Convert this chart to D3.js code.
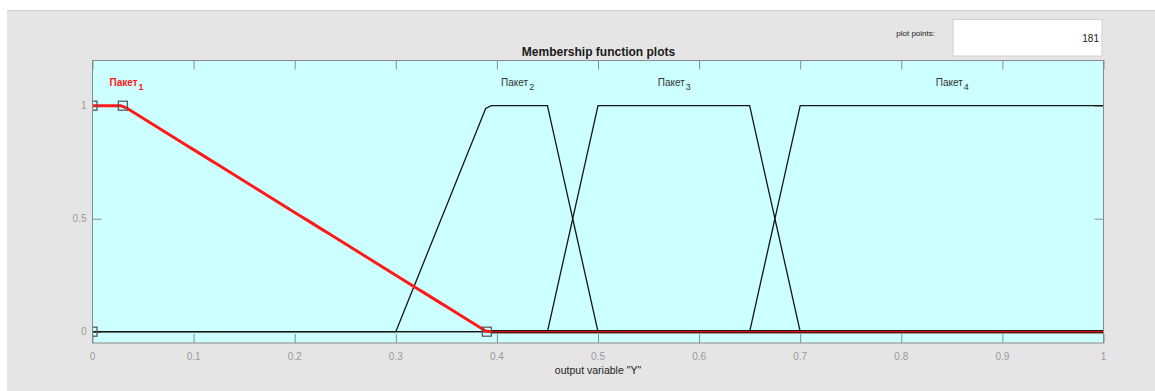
<!DOCTYPE html>
<html>
<head>
<meta charset="utf-8">
<script src="https://cdn.jsdelivr.net/npm/d3@7"></script>
<style>
  html, body { margin: 0; padding: 0; background: #ffffff; }
  svg { display: block; font-family: "Liberation Sans", Arial, Helvetica, sans-serif; }
</style>
</head>
<body>
<svg id="chart" width="1155" height="391"></svg>
<script>
// Output variable "Y": four trapezoidal membership functions
const mfNames = ["Пакет", "Пакет", "Пакет", "Пакет"];
const mfIndex = ["1", "2", "3", "4"];
const mfParams = [
  [0, 0, 0.03, 0.39],
  [0.3, 0.39, 0.45, 0.5],
  [0.45, 0.5, 0.65, 0.7],
  [0.65, 0.7, 1, 1.3]
];
const selectedMf = 0;
const plotPoints = 181;
const xRange = [0, 1];
const yRange = [-0.05, 1.2];
const xTicks = [0, 0.1, 0.2, 0.3, 0.4, 0.5, 0.6, 0.7, 0.8, 0.9, 1];
const xTickLabels = ["0", "0.1", "0.2", "0.3", "0.4", "0.5", "0.6", "0.7", "0.8", "0.9", "1"];
const yTicks = [0, 0.5, 1];
const yTickLabels = ["0", "0.5", "1"];
const titleText = "Membership function plots";
const xLabelText = 'output variable "Y"';
const pointsLabel = "plot points:";

// trapezoid membership function
function trapmf(x, [a, b, c, d]) {
  const up = b > a ? (x - a) / (b - a) : (x >= a ? 1 : 0);
  const down = d > c ? (d - x) / (d - c) : (x <= d ? 1 : 0);
  return Math.max(0, Math.min(up, 1, down));
}

const svg = d3.select("#chart");
const W = 1155, H = 391;
const plot = { left: 92.5, right: 1103.5, top: 60.5, bottom: 343 };

const x = d3.scaleLinear().domain(xRange).range([plot.left, plot.right]);
const y = d3.scaleLinear().domain(yRange).range([plot.bottom, plot.top]);

// figure panel
svg.append("rect").attr("x", 7).attr("y", 10).attr("width", W - 7).attr("height", H - 10)
  .attr("fill", "#e5e5e5");
svg.append("line").attr("x1", 7).attr("x2", W).attr("y1", 10.5).attr("y2", 10.5)
  .attr("stroke", "#cfcfcf");

// plot-points box
svg.append("text").attr("x", 935).attr("y", 36).attr("text-anchor", "end")
  .attr("font-size", 8).attr("fill", "#222").text(pointsLabel);
svg.append("rect").attr("x", 953).attr("y", 19.5).attr("width", 149).attr("height", 36.5)
  .attr("fill", "#ffffff").attr("stroke", "#d0d0d0");
svg.append("text").attr("x", 1099).attr("y", 42).attr("text-anchor", "end")
  .attr("font-size", 10).attr("fill", "#222").text(plotPoints);

// axes background
svg.append("rect").attr("x", plot.left).attr("y", plot.top)
  .attr("width", plot.right - plot.left).attr("height", plot.bottom - plot.top)
  .attr("fill", "#ccffff");

svg.append("defs").append("clipPath").attr("id", "plotClip")
  .append("rect").attr("x", plot.left).attr("y", plot.top)
  .attr("width", plot.right - plot.left).attr("height", plot.bottom - plot.top);

// ticks on all four sides, pointing inward
const tickLen = 9;
const tickColor = "#8a8a8a";
const xAxisBottom = d3.axisTop(x).tickValues(xTicks).tickSize(tickLen).tickFormat("");
const xAxisTop = d3.axisBottom(x).tickValues(xTicks).tickSize(tickLen).tickFormat("");
const yAxisLeft = d3.axisRight(y).tickValues(yTicks).tickSize(tickLen).tickFormat("");
const yAxisRight = d3.axisLeft(y).tickValues(yTicks).tickSize(tickLen).tickFormat("");
function styleAxis(g) {
  g.select(".domain").remove();
  g.selectAll("line").attr("stroke", tickColor);
}
svg.append("g").attr("transform", `translate(0,${plot.bottom})`).call(xAxisBottom).call(styleAxis);
svg.append("g").attr("transform", `translate(0,${plot.top})`).call(xAxisTop).call(styleAxis);
svg.append("g").attr("transform", `translate(${plot.left},0)`).call(yAxisLeft).call(styleAxis);
svg.append("g").attr("transform", `translate(${plot.right},0)`).call(yAxisRight).call(styleAxis);

// tick labels
svg.append("g").selectAll("text").data(xTicks).join("text")
  .attr("x", d => x(d)).attr("y", plot.bottom + 17)
  .attr("text-anchor", "middle").attr("font-size", 10).attr("fill", "#9a9a9a")
  .text((d, i) => xTickLabels[i]);
svg.append("g").selectAll("text").data(yTicks).join("text")
  .attr("x", plot.left - 6).attr("y", d => y(d) + 3.5)
  .attr("text-anchor", "end").attr("font-size", 10).attr("fill", "#9a9a9a")
  .text((d, i) => yTickLabels[i]);

// titles
svg.append("text").attr("x", (plot.left + plot.right) / 2 + 0.5).attr("y", 56)
  .attr("text-anchor", "middle").attr("font-size", 12).attr("font-weight", "bold")
  .attr("fill", "#1a1a1a").text(titleText);
svg.append("text").attr("x", (plot.left + plot.right) / 2).attr("y", 374)
  .attr("text-anchor", "middle").attr("font-size", 10.5).attr("fill", "#222")
  .text(xLabelText);

// sampled membership curves
const xs = d3.range(plotPoints).map(i => xRange[0] + (xRange[1] - xRange[0]) * i / (plotPoints - 1));
const curves = mfParams.map(p => xs.map(v => [v, trapmf(v, p)]));
const line = d3.line().x(d => x(d[0])).y(d => y(d[1]));

const plotG = svg.append("g").attr("clip-path", "url(#plotClip)");

curves.forEach((c, i) => {
  if (i === selectedMf) return;
  plotG.append("path").attr("d", line(c)).attr("fill", "none")
    .attr("stroke", "#161616").attr("stroke-width", 1.3);
});

// highlighted function
const sel = curves[selectedMf];
plotG.append("path").attr("d", line(sel)).attr("fill", "none")
  .attr("stroke", "#ff1a1a").attr("stroke-width", 3).attr("stroke-linejoin", "round");
// where the highlighted function lies on the baseline beside the others
const selTail = sel.filter(d => d[0] >= mfParams[selectedMf][3]);
plotG.append("path").attr("d", line(selTail)).attr("fill", "none")
  .attr("stroke", "#1a1a1a").attr("stroke-width", 3.2);
plotG.append("path").attr("d", line(selTail)).attr("fill", "none")
  .attr("stroke", "#e01010").attr("stroke-width", 1.2);

// breakpoint handles of the highlighted function
const [a, b, c, d] = mfParams[selectedMf];
const handles = [[a, 0], [b, 1], [c, 1], [d, 0]];
plotG.selectAll("rect.handle").data(handles).join("rect").attr("class", "handle")
  .attr("x", p => x(p[0]) - 4.5).attr("y", p => y(p[1]) - 4.5)
  .attr("width", 9).attr("height", 9)
  .attr("fill", "none").attr("stroke", "#505050").attr("stroke-width", 1.2);

// function labels above each plateau
const labelG = svg.append("g");
mfParams.forEach((p, i) => {
  const lo = Math.max(p[1], xRange[0]);
  const hi = Math.min(p[2], xRange[1]);
  const isSel = i === selectedMf;
  const t = labelG.append("text").attr("y", y(1.1) + 3)
    .attr("font-size", 10).attr("fill", isSel ? "#ff1a1a" : "#333")
    .attr("font-weight", isSel ? "bold" : "normal");
  t.append("tspan").text(mfNames[i]);
  t.append("tspan").attr("dy", 4).attr("dx", 1).attr("font-size", 9).text(mfIndex[i]);
  const w = t.node().getComputedTextLength();
  let cx = x((lo + hi) / 2) - w / 2;
  cx = Math.max(cx, plot.left + 17);
  cx = Math.min(cx, plot.right - 17 - w);
  t.attr("x", cx);
});

// axes box
svg.append("rect").attr("x", plot.left).attr("y", plot.top)
  .attr("width", plot.right - plot.left).attr("height", plot.bottom - plot.top)
  .attr("fill", "none").attr("stroke", "#8a8a8a").attr("stroke-width", 1);
</script>
</body>
</html>
